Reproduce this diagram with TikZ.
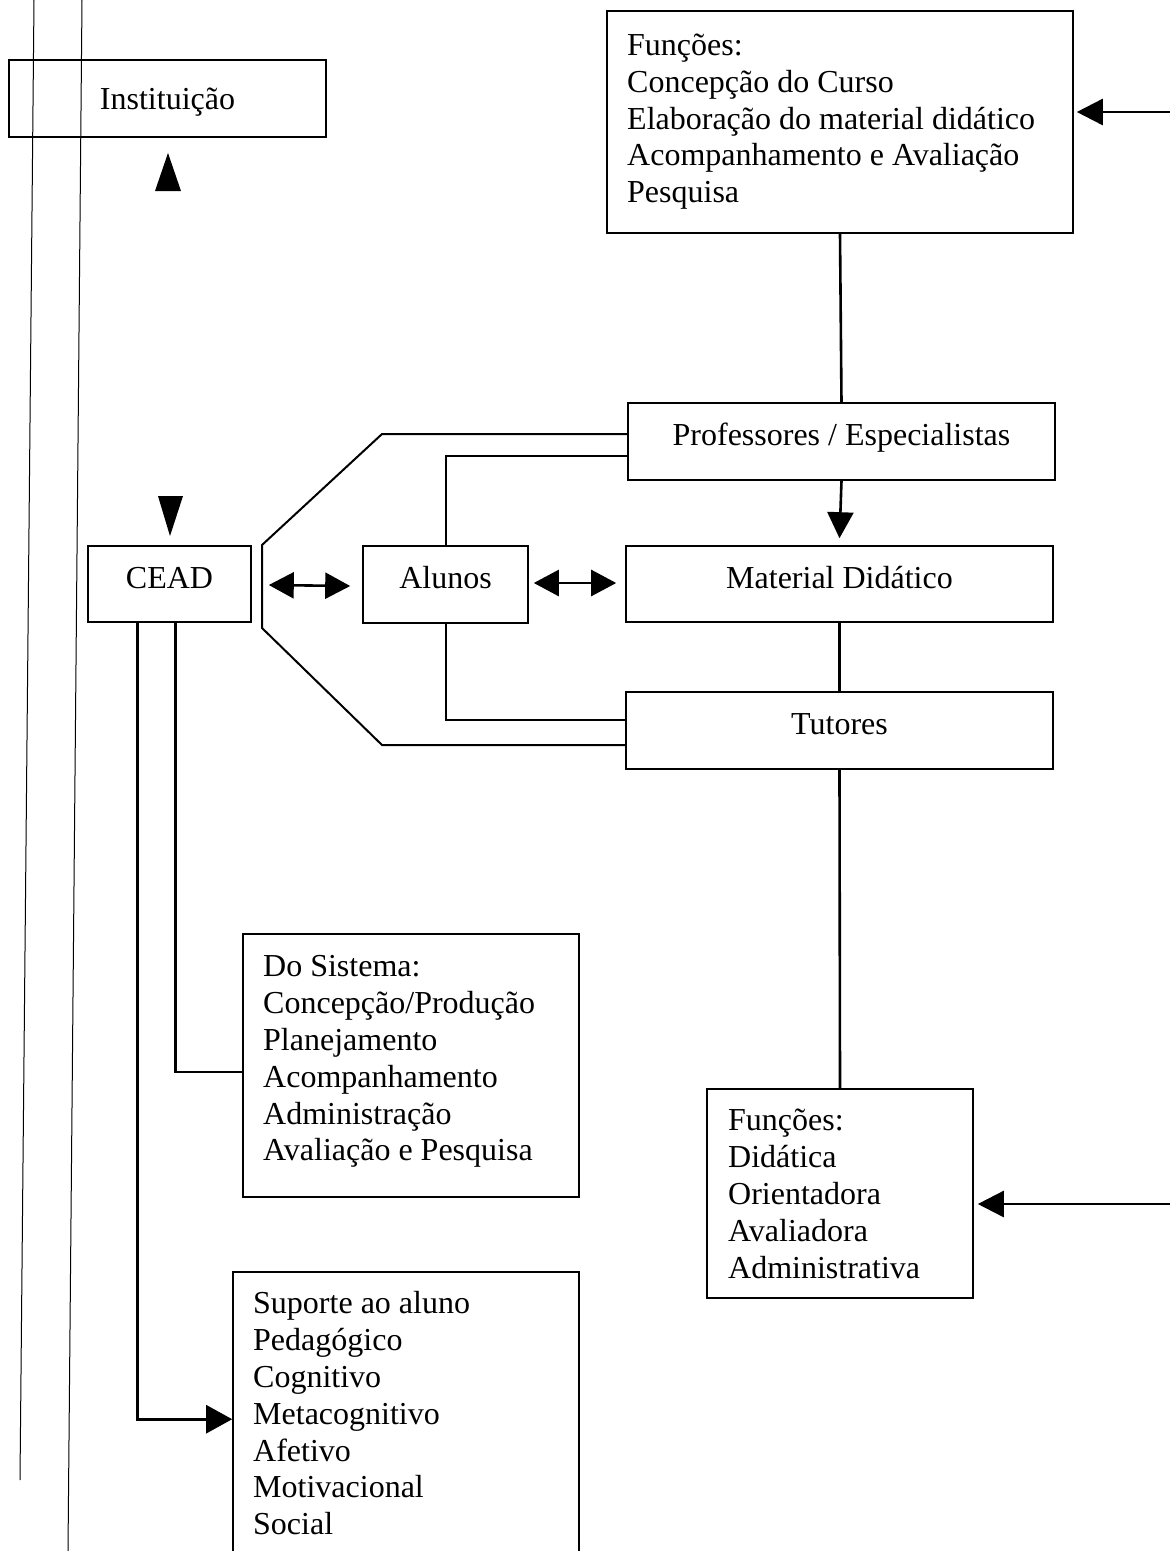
\documentclass[tikz,border=0pt]{standalone}
\usepackage{fontspec}
\setmainfont{Liberation Serif}
\usetikzlibrary{arrows.meta,calc}
\tikzset{
  boxnode/.style={draw, line width=1.6pt, inner sep=0pt, text height=20pt, text depth=12pt},
  txt/.style={align=left, inner sep=0pt, anchor=north west},
  conn/.style={line width=2.6pt},
  hexline/.style={line width=2pt},
  tip/.style={-{Triangle[length=26pt,width=26pt]}},
  dtip/.style={{Triangle[length=25pt,width=26pt]}-{Triangle[length=25pt,width=26pt]}},
  pageline/.style={line width=1pt}
}
\begin{document}
\begin{tikzpicture}[x=1pt,y=-1pt,font=\fontsize{32}{36.8}\selectfont]
\clip (0,0) rectangle (1170,1551);
\fill[white] (0,0) rectangle (1170,1551);
% page margin lines
\draw[pageline] (34,0) -- (20,1480);
\draw[pageline] (82,0) -- (68,1551);
% boxes
\node[boxnode, minimum width=317pt, minimum height=77pt, text height=27pt, text depth=5pt] (inst) at (167.5,98.5) {Instituição};
\node[boxnode, minimum width=163pt, minimum height=76pt] (cead) at (169.5,584) {CEAD};
\node[boxnode, minimum width=165pt, minimum height=77pt] (alu) at (445.5,584.5) {Alunos};
\node[boxnode, minimum width=427pt, minimum height=76pt] (mat) at (839.5,584) {Material Didático};
\node[boxnode, minimum width=427pt, minimum height=77pt] (prof) at (841.5,441.5) {Professores / Especialistas};
\node[boxnode, minimum width=427pt, minimum height=77pt] (tut) at (839.5,730.5) {Tutores};
% multi-line boxes
\node[boxnode, minimum width=466pt, minimum height=222pt] (fun1) at (840,122) {};
\node[txt] (fun1t) at (627,29.5) {\strut Funções:\\Concepção do Curso\\Elaboração do material didático\\Acompanhamento e Avaliação\\Pesquisa};
\node[boxnode, minimum width=336pt, minimum height=263pt] (sis) at (411,1065.5) {};
\node[txt] (sist) at (263,951) {\strut Do Sistema:\\Concepção/Produção\\Planejamento\\Acompanhamento\\Administração\\Avaliação e Pesquisa};
\node[boxnode, minimum width=266pt, minimum height=209pt] (fun2) at (840,1193.5) {};
\node[txt] (fun2t) at (728,1105) {\strut Funções:\\Didática\\Orientadora\\Avaliadora\\Administrativa};
\node[boxnode, minimum width=346pt, minimum height=320pt] (sup) at (406,1432) {};
\node[txt] (supt) at (253,1288) {\strut Suporte ao aluno\\Pedagógico\\Cognitivo\\Metacognitivo\\Afetivo\\Motivacional\\Social};
% free-standing triangles
\fill (168,153) -- (181,191) -- (155,191) -- cycle;
\fill (158,496) -- (183,496) -- (170,536) -- cycle;
% connectors
\draw[conn] (fun1.south) -- (prof.north);
\draw[conn, tip] (prof.south) -- ([yshift=7pt]mat.north);
\draw[conn] (mat.south) -- (tut.north);
\draw[conn] (tut.south) -- (fun2.north);
\coordinate (r1) at (1170,112);
\coordinate (r2) at (1170,1204);
\draw[conn, tip] (r1) -- ([xshift=3pt,yshift=10pt]fun1.east);
\draw[conn, tip] (r2) -- ([xshift=4pt,yshift=-10.5pt]fun2.east);
\draw[conn, dtip] ([xshift=17pt,yshift=-1pt]cead.east) -- ([xshift=-12pt,yshift=-1.5pt]alu.west);
\draw[conn, dtip] ([xshift=5pt,yshift=1.5pt]alu.east) -- ([xshift=-9pt,yshift=1pt]mat.west);
% hexagon enclosure
\draw[hexline] ([yshift=7.5pt]prof.west) -- (382,434) -- (262,545) -- (262,628) -- (382,745) -- ([yshift=-14.5pt]tut.west);
\draw[hexline] (alu.north) |- ([yshift=-14.5pt]prof.west);
\draw[hexline] (alu.south) |- ([yshift=10.5pt]tut.west);
% CEAD branches
\draw[conn] ([xshift=88pt]cead.south west) |- ([yshift=-6.5pt]sis.west);
\draw[conn, -{Triangle[length=26pt,width=28pt]}] ([xshift=50pt]cead.south west) |- ([yshift=-148pt]sup.north west);
\end{tikzpicture}
\end{document}
